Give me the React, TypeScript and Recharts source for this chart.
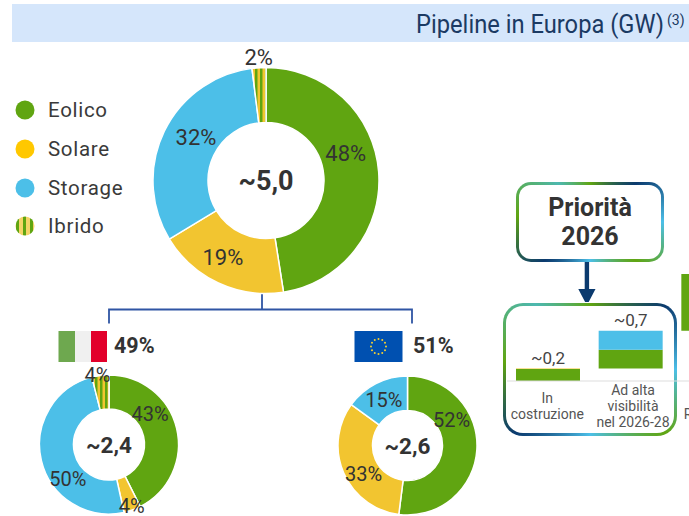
import React from 'react';
import { PieChart, Pie, Cell, BarChart, Bar, XAxis, YAxis, LabelList } from 'recharts';

const sources = ['Eolico', 'Solare', 'Storage', 'Ibrido'];
const totalShares = [48, 19, 32, 2];
const italyShares = [43, 4, 50, 4];
const europeShares = [52, 33, 15];

const barCategories = ['In costruzione', 'Ad alta visibilità nel 2026-28', 'R'];
const barOffsets = [0, 0.23, 0.93];
const barEolico = [0.22, 0.35, 1.05];
const barSolare = [0.01, 0, 0];
const barStorage = [0, 0.35, 0];
const barTotals = ['~0,2', '~0,7', ''];
const barTickLines = [['In', 'costruzione'], ['Ad alta', 'visibilità', 'nel 2026-28'], ['', 'R']];

const GREEN = '#60a511';
const YELLOW = '#f2c530';
const BLUE = '#4cbfe8';
const TEXT = '#333333';
const NAVY = '#1b3a63';
const sliceFills = [GREEN, YELLOW, BLUE, 'url(#ibrido)'];
const legendFills = [GREEN, '#ffc800', BLUE, 'url(#ibridoLegend)'];

// label shifts from the middle of each ring slice, same as the original slide
const totalNudge = [[-5.5, -20], [-7, -1], [7, -6], [-2, -38]];
const italyNudge = [[-10, -18], [5, 12], [10, 22], [-5, -17]];
const europeNudge = [[-8, -29], [4, 8], [0, 1]];

const toSlices = (values: number[]) => values.map((value, i) => ({ name: sources[i], value }));

const barData = barCategories.map((name, i) => ({
  name,
  offset: barOffsets[i],
  eolico: barEolico[i],
  solare: barSolare[i],
  storage: barStorage[i],
}));

const border = (background: string, width: number, radius: number): React.CSSProperties => ({
  position: 'absolute',
  boxSizing: 'border-box',
  border: `${width}px solid transparent`,
  borderRadius: radius,
  background: `linear-gradient(#fff,#fff) padding-box, ${background} border-box`,
});

const RING =
  'conic-gradient(#60a511 0deg, #0b3a6e 50deg, #4cbfe8 90deg, #60a511 130deg, #4cbfe8 180deg, #0b3a6e 230deg, #60a511 275deg, #4db8b0 320deg, #60a511 360deg)';

const sliceLabel = (nudge: number[][], fontSize: number) => (p: any) => {
  const r = (p.innerRadius + p.outerRadius) / 2;
  const a = (-p.midAngle * Math.PI) / 180;
  return (
    <text
      x={p.cx + r * Math.cos(a) + nudge[p.index][0]}
      y={p.cy + r * Math.sin(a) + nudge[p.index][1]}
      textAnchor="middle"
      dominantBaseline="central"
      fontFamily="Roboto"
      fontSize={fontSize}
      fill={TEXT}
    >
      {p.value}%
    </text>
  );
};

const Donut = ({ values, nudge, left, top, width, height, cx, cy, inner, outer, total, labelSize, totalSize }: any) => (
  <div style={{ position: 'absolute', left, top }}>
    <PieChart width={width} height={height} margin={{ top: 0, right: 0, bottom: 0, left: 0 }}>
      <Pie
        data={toSlices(values)}
        dataKey="value"
        cx={cx}
        cy={cy}
        innerRadius={inner}
        outerRadius={outer}
        startAngle={90}
        endAngle={-270}
        stroke="#fff"
        strokeWidth={1.5}
        label={sliceLabel(nudge, labelSize)}
        labelLine={false}
        isAnimationActive={false}
      >
        {values.map((_: number, i: number) => (
          <Cell key={i} fill={sliceFills[i]} />
        ))}
      </Pie>
      <text
        x={cx}
        y={cy}
        textAnchor="middle"
        dominantBaseline="central"
        fontFamily="Roboto"
        fontWeight={700}
        fontSize={totalSize}
        fill={TEXT}
      >
        {total}
      </text>
    </PieChart>
  </div>
);

const BarTick = ({ x, y, payload, index }: any) => {
  const lines = barTickLines[index] || [payload.value];
  const lineHeight = 16;
  const startY = y + 17 - ((lines.length - 1) * lineHeight) / 2;
  const isCut = index === 2;
  const textX = isCut ? x - 30 : x + (lines.length === 3 ? 2 : -1);
  return (
    <text
      x={textX}
      y={startY}
      textAnchor={isCut ? 'start' : 'middle'}
      dominantBaseline="central"
      fontFamily="Roboto"
      fontSize={14}
      fill="#555"
    >
      {lines.map((line: string, i: number) => (
        <tspan key={i} x={textX} y={startY + i * lineHeight}>
          {line}
        </tspan>
      ))}
    </text>
  );
};

// only the top segment of a stack carries the total
const totalLabel = (total: string) => (p: any) =>
  p.height > 0 ? (
    <text x={p.x + p.width / 2} y={p.y - 5} textAnchor="middle" fontFamily="Roboto" fontSize={17} fill="#444">
      {total}
    </text>
  ) : null;

const euStars = Array.from({ length: 12 }, (_, i) => i * 30);

export default function App() {
  return (
    <div style={{ position: 'absolute', left: 0, top: 0, width: 689, height: 516, overflow: 'hidden', background: '#fff', fontFamily: 'Roboto' }}>
      {/* stripes for the hybrid slices, shared by all charts */}
      <svg width={0} height={0} style={{ position: 'absolute' }}>
        <defs>
          <pattern id="ibrido" width={5} height={5} patternUnits="userSpaceOnUse">
            <rect width={5} height={5} fill={YELLOW} />
            <rect width={2.5} height={5} fill={GREEN} />
          </pattern>
          <pattern id="ibridoLegend" x={1} width={7} height={7} patternUnits="userSpaceOnUse">
            <rect width={7} height={7} fill="#f5d467" />
            <rect width={3} height={7} fill={GREEN} />
          </pattern>
        </defs>
      </svg>

      <div style={{ position: 'absolute', left: 12, top: 4, width: 677, height: 38, background: '#d5e6fb' }} />
      <svg width={689} height={60} style={{ position: 'absolute', left: 0, top: 0 }}>
        <text x={416} y={33} fontFamily="Roboto" fontSize={25} fill={NAVY} textLength={248} lengthAdjust="spacingAndGlyphs">
          Pipeline in Europa (GW)
        </text>
        <text x={667} y={25} fontFamily="Roboto" fontSize={14} fill={NAVY}>
          (3)
        </text>
      </svg>

      {/* legend */}
      {sources.map((name, i) => (
        <div key={name} style={{ position: 'absolute', left: 15, top: 98 + i * 39 - (i === 3 ? 1 : 0), height: 24, display: 'flex', alignItems: 'center' }}>
          <svg width={20} height={20}>
            <circle cx={10} cy={10} r={9.5} fill={legendFills[i]} />
          </svg>
          <span style={{ marginLeft: 13, fontSize: 20.5, letterSpacing: 0.7, color: '#3a3a3a' }}>{name}</span>
        </div>
      ))}

      {/* connector + flags */}
      <svg width={689} height={516} style={{ position: 'absolute', left: 0, top: 0 }}>
        <path d="M262 290V309.5M109 323.5V309.5H412V323.5" fill="none" stroke="#2f55a4" strokeWidth={1.8} />
        <rect x={58.5} y={331} width={16.5} height={31} fill="#6ea84f" />
        <rect x={75} y={331} width={16} height={31} fill="#f0f0f0" />
        <rect x={91} y={331} width={16} height={31} fill="#e2002b" />
        <rect x={354.5} y={331} width={48} height={31} fill="#0050b0" />
        {euStars.map((deg) => (
          <circle
            key={deg}
            cx={378.5 + 7.5 * Math.cos((deg * Math.PI) / 180)}
            cy={346.5 + 7.5 * Math.sin((deg * Math.PI) / 180)}
            r={1}
            fill="#f5d130"
          />
        ))}
        <text x={114} y={353} fontFamily="Roboto" fontWeight={700} fontSize={21.5} fill={TEXT}>49%</text>
        <text x={413} y={353} fontFamily="Roboto" fontWeight={700} fontSize={21.5} fill={TEXT}>51%</text>
      </svg>

      <Donut values={totalShares} nudge={totalNudge} left={140} top={40} width={252} height={270} cx={126} cy={140.5} inner={58} outer={113} total="~5,0" labelSize={22} totalSize={27} />
      <Donut values={italyShares} nudge={italyNudge} left={30} top={362} width={160} height={154} cx={79} cy={82.5} inner={35.5} outer={69.5} total="~2,4" labelSize={20} totalSize={22.5} />
      <Donut values={europeShares} nudge={europeNudge} left={328} top={362} width={160} height={154} cx={79.5} cy={83.5} inner={35} outer={69.5} total="~2,6" labelSize={20} totalSize={22.5} />

      {/* priority callout */}
      <div style={{ ...border(RING, 3.5, 15), left: 516, top: 182, width: 148, height: 80, display: 'flex', alignItems: 'center', justifyContent: 'center', textAlign: 'center', fontWeight: 700, fontSize: 25, lineHeight: '29px', color: TEXT }}>
        <div>
          Priorità
          <br />
          2026
        </div>
      </div>
      <svg width={689} height={516} style={{ position: 'absolute', left: 0, top: 0 }}>
        <path d="M584.7 262h4.4v27h6.4l-6.8 13h-3.6l-6.8-13h6.4z" fill="#0b3a6e" />
      </svg>
      <div style={{ ...border(RING, 3.5, 20), left: 503, top: 303, width: 174, height: 133 }} />

      <div style={{ position: 'absolute', left: 507, top: 260 }}>
        <BarChart width={248} height={176} data={barData} barSize={64} margin={{ top: 0, right: 0, bottom: 0, left: 0 }}>
          <XAxis
            dataKey="name"
            height={55}
            interval={0}
            axisLine={{ stroke: '#dddddd' }}
            tickLine={false}
            tick={<BarTick />}
          />
          <YAxis hide domain={[0, 2.24]} />
          <Bar dataKey="offset" stackId="a" fill="transparent" isAnimationActive={false} />
          <Bar dataKey="eolico" stackId="a" fill={GREEN} isAnimationActive={false} />
          <Bar dataKey="solare" stackId="a" fill={YELLOW} isAnimationActive={false}>
            <LabelList content={totalLabel(barTotals[0])} />
          </Bar>
          <Bar dataKey="storage" stackId="a" fill={BLUE} isAnimationActive={false}>
            <LabelList content={totalLabel(barTotals[1])} />
          </Bar>
        </BarChart>
      </div>
    </div>
  );
}
